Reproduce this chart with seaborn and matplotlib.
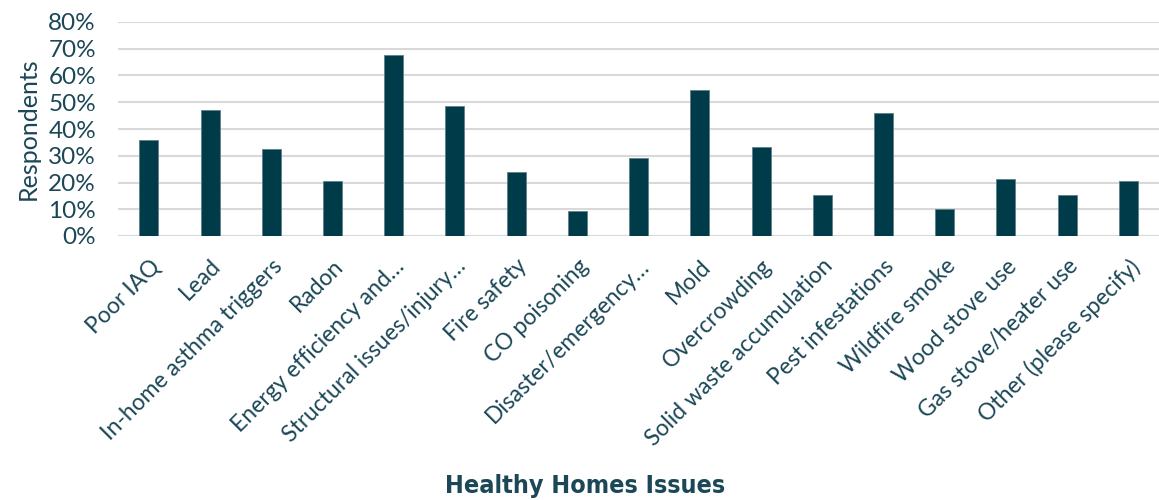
import numpy as np
import pandas as pd
import seaborn as sns
import matplotlib.pyplot as plt
from matplotlib.ticker import PercentFormatter

# Survey data
issues = [
    "Poor IAQ", "Lead", "In-home asthma triggers", "Radon",
    "Energy efficiency and\u2026", "Structural issues/injury\u2026",
    "Fire safety", "CO poisoning", "Disaster/emergency\u2026", "Mold",
    "Overcrowding", "Solid waste accumulation", "Pest infestations",
    "Wildfire smoke", "Wood stove use", "Gas stove/heater use",
    "Other (please specify)",
]
respondents = [36, 47, 32.4, 20.4, 67.5, 48.6, 23.9, 9.3, 29, 54.6,
               33.3, 15.3, 46.1, 10.1, 21.3, 15.3, 20.4]
y_ticks = [0, 10, 20, 30, 40, 50, 60, 70, 80]

bar_color = "#003B4A"
text_color = "#1B4756"
grid_color = "#D9D9D9"

df = pd.DataFrame({"issue": issues, "pct": respondents})

sns.set_theme(style="white")
plt.rcParams["font.family"] = ["Lato", "DejaVu Sans"]

fig = plt.figure(figsize=(11.59, 5), dpi=100)
ax = fig.add_axes([0.102, 0.528, 0.898, 0.428])

sns.barplot(data=df, x="issue", y="pct", color=bar_color, width=0.31,
            saturation=1, edgecolor="#5E7F89", linewidth=0.6, ax=ax, zorder=3)

ax.set_ylim(0, 80)
ax.set_xlim(-0.5, len(issues) - 0.5)
ax.set_yticks(y_ticks)
ax.yaxis.set_major_formatter(PercentFormatter(decimals=0))
ax.grid(axis="y", color=grid_color, linewidth=1.5, zorder=0)
ax.set_axisbelow(True)
for side in ["top", "right", "left", "bottom"]:
    ax.spines[side].set_visible(False)
ax.axhline(0, color=grid_color, linewidth=1.5, zorder=1)

ax.tick_params(axis="y", length=0, pad=16, labelsize=17.5, labelcolor=text_color)
ax.tick_params(axis="x", length=0, pad=14, labelsize=16.5, labelcolor=text_color)
plt.setp(ax.get_xticklabels(), rotation=45, ha="right", rotation_mode="anchor")

ax.set_ylabel("Respondents", fontsize=18, color=text_color, labelpad=6)
ax.set_xlabel("Healthy Homes Issues", fontsize=18, fontweight="bold",
              color=text_color, fontstretch="condensed",
              family=["DejaVu Sans", "Liberation Sans"])
ax.xaxis.set_label_coords(0.449, -1.11)

plt.savefig("out.png", dpi=100)
